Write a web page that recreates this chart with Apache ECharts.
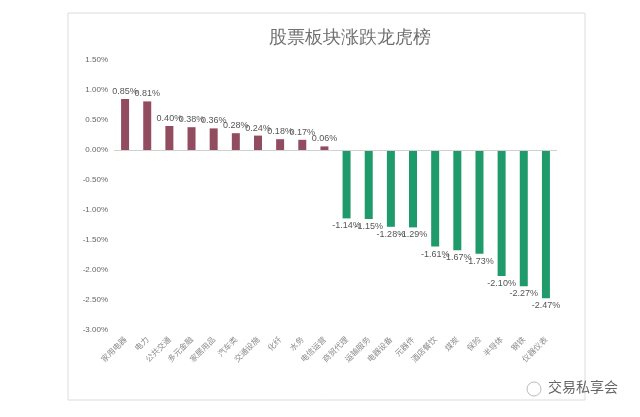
<!DOCTYPE html>
<html><head><meta charset="utf-8">
<script src="https://cdn.jsdelivr.net/npm/echarts@6/dist/echarts.min.js"></script>
<style>html,body{margin:0;padding:0;background:#fff}#c{width:640px;height:417px}</style>
</head><body><div id="c"></div>
<script>
var categories = ['家用电器','电力','公共交通','多元金融','家居用品','汽车类','交通设施','化纤','水务','电信运营','商贸代理','运输服务','电器设备','元器件','酒店餐饮','煤炭','保险','半导体','钢铁','仪器仪表'];
var values = [0.85,0.81,0.40,0.38,0.36,0.28,0.24,0.18,0.17,0.06,-1.14,-1.15,-1.28,-1.29,-1.61,-1.67,-1.73,-2.10,-2.27,-2.47];
var yTicks = {min:-3, max:1.5, step:0.5};
var title = '股票板块涨跌龙虎榜';
var watermark = '交易私享会';

var chart = echarts.init(document.getElementById('c'));
chart.setOption({
  animation:false,
  backgroundColor:'#fff',
  title:{text:title,left:345,top:24,textAlign:'center',textStyle:{fontFamily:'serif',fontSize:18,fontWeight:'normal',color:'#707070'}},
  grid:{left:114,right:83,top:60,bottom:87},
  xAxis:{type:'category',data:categories,axisLine:{show:false},axisTick:{show:false},
    axisLabel:{rotate:45,fontSize:8,color:'#8c8c8c',margin:8,interval:0,fontFamily:'Noto Sans CJK SC'}},
  yAxis:{type:'value',min:yTicks.min,max:yTicks.max,interval:yTicks.step,splitLine:{show:false},axisLine:{show:false},axisTick:{show:false},
    axisLabel:{fontSize:8,color:'#666',margin:6,formatter:function(v){return v.toFixed(2)+'%';}}},
  graphic:[
    {type:'rect',shape:{x:68,y:13,width:517,height:387},style:{fill:'none',stroke:'#dcdcdc',lineWidth:1},z:-1},
    {type:'text',left:548,top:380,style:{text:watermark,fontSize:14,fill:'#666',fontFamily:'Noto Sans CJK SC'}},
    {type:'circle',shape:{cx:534,cy:389,r:7},style:{fill:'none',stroke:'#bbb',lineWidth:1}}
  ],
  series:[{type:'bar',barWidth:8,
    data:values.map(function(v){return {value:v,itemStyle:{color:v>=0?'#924c60':'#1f9a6a'},
      label:{position:v>=0?'top':'bottom'}};}),
    label:{show:true,fontSize:9,color:'#555',distance:3,formatter:function(p){return p.value.toFixed(2)+'%';}},
    markLine:{silent:true,symbol:'none',label:{show:false},lineStyle:{color:'#d0d0d0',type:'solid',width:1},data:[{yAxis:0}]}
  }]
});
</script></body></html>
